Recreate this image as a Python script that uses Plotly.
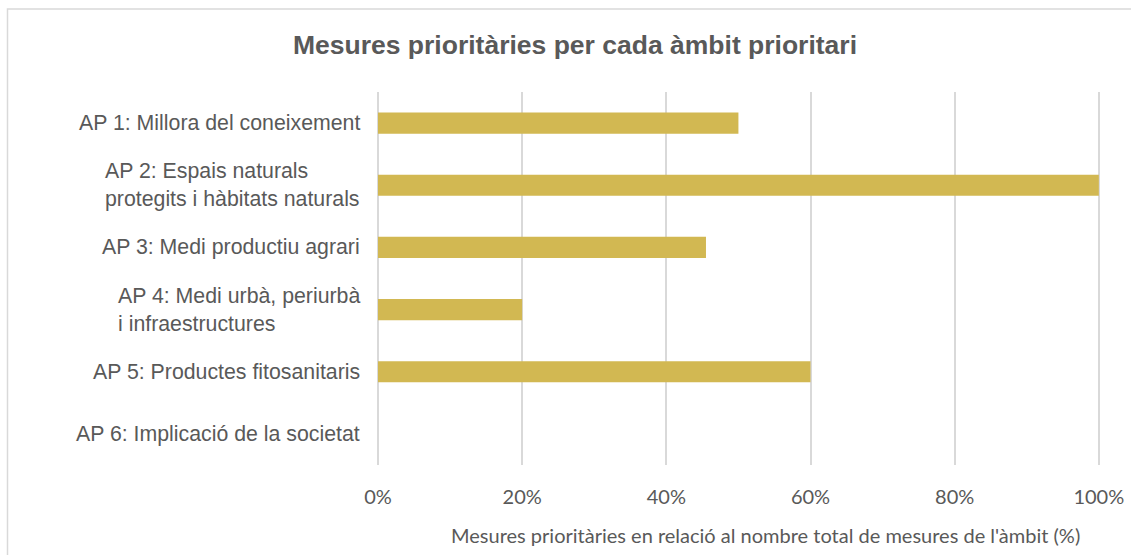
import plotly.graph_objects as go

categories = [
    "AP 1: Millora del coneixement",
    "AP 2: Espais naturals<br>protegits i hàbitats naturals",
    "AP 3: Medi productiu agrari",
    "AP 4: Medi urbà, periurbà<br>i infraestructures",
    "AP 5: Productes fitosanitaris",
    "AP 6: Implicació de la societat",
]
values = [0.50, 1.00, 0.455, 0.20, 0.60, 0.0]
tick_vals = [0, 0.2, 0.4, 0.6, 0.8, 1.0]
tick_text = ["0%", "20%", "40%", "60%", "80%", "100%"]

title_text = "Mesures prioritàries per cada àmbit prioritari"
xaxis_title = "Mesures prioritàries en relació al nombre total de mesures de l'àmbit (%)"

W, H = 1131, 555
ML, MR, MT, MB = 378, 30, 92, 90
plot_w = W - ML - MR
plot_h = H - MT - MB

GREY = "#595959"
BAR = "#D2B852"

fig = go.Figure()
fig.add_trace(go.Bar(
    x=values, y=categories, orientation="h",
    marker=dict(color=BAR, line=dict(width=0)),
    hoverinfo="skip",
))

annotations = []
for c in categories:
    annotations.append(dict(
        x=0, y=c, xref="paper", yref="y", text=c,
        xanchor="right", yanchor="middle", align="left", xshift=-16,
        showarrow=False,
        font=dict(family="Liberation Sans, Arial", size=21.3, color=GREY),
    ))
annotations.append(dict(
    x=(765 - ML) / plot_w, y=(MT + plot_h - 535) / plot_h,
    xref="paper", yref="paper", text=xaxis_title,
    xanchor="center", yanchor="middle", showarrow=False,
    font=dict(family="Lato, Open Sans", size=20, color=GREY),
))

fig.update_layout(
    template="none",
    width=W, height=H,
    margin=dict(l=ML, r=MR, t=MT, b=MB, pad=0, autoexpand=False),
    paper_bgcolor="white", plot_bgcolor="white",
    showlegend=False,
    bargap=0.66,
    title=dict(
        text=title_text, x=575 / W, xanchor="center",
        y=1 - 45 / H, yanchor="middle",
        font=dict(family="Liberation Sans, Arial", size=26.5, color=GREY, weight="bold"),
    ),
    xaxis=dict(
        range=[0, 1.003], tickvals=tick_vals, ticktext=tick_text,
        showgrid=True, gridcolor="#D9D9D9", gridwidth=1.5,
        zeroline=True, zerolinecolor="#D9D9D9", zerolinewidth=1.5,
        showline=False, ticks="", ticklabelstandoff=18,
        tickfont=dict(family="Lato, Open Sans", size=20, color=GREY),
        fixedrange=True, automargin=False,
    ),
    yaxis=dict(
        categoryorder="array", categoryarray=categories[::-1],
        showticklabels=False, showgrid=False, zeroline=False, showline=False,
        ticks="", fixedrange=True, automargin=False,
    ),
    annotations=annotations,
    shapes=[dict(
        type="rect", xref="paper", yref="paper",
        x0=(7.5 - ML) / plot_w, x1=(W + 20 - ML) / plot_w,
        y0=(MT + plot_h - (H + 20)) / plot_h, y1=(MT + plot_h - 9) / plot_h,
        line=dict(color="#D9D9D9", width=1.5), fillcolor="rgba(0,0,0,0)",
        layer="below",
    )],
)

fig.write_html(
    "out.html",
    config={"displayModeBar": False},
    post_script="document.body.style.margin='0';document.body.style.overflow='hidden';",
)
